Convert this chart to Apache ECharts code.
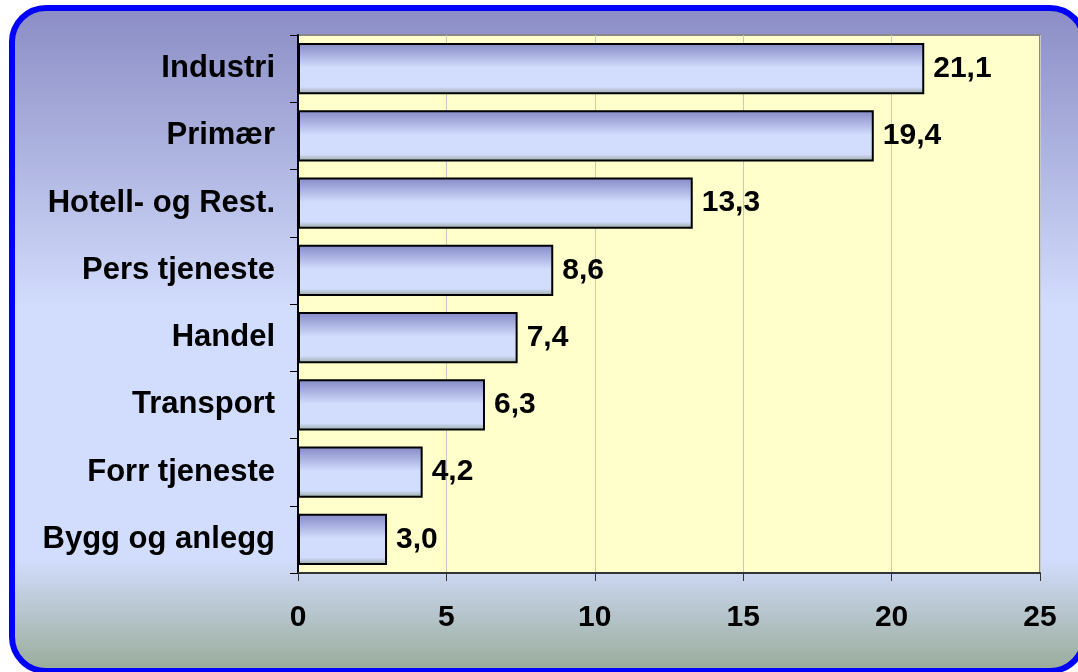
<!DOCTYPE html>
<html lang="no">
<head>
    <meta charset="UTF-8">
    <title>Bransjer</title>
    <script src="https://cdn.jsdelivr.net/npm/echarts@6/dist/echarts.min.js"></script>
    <style>
        html, body { margin: 0; padding: 0; background: #ffffff; }
    </style>
</head>
<body>
<div id="main" style="width: 1078px;height:672px;"></div>
<script type="text/javascript">
    // data
    var categories = ['Industri', 'Primær', 'Hotell- og Rest.', 'Pers tjeneste', 'Handel', 'Transport', 'Forr tjeneste', 'Bygg og anlegg'];
    var values = [21.1, 19.4, 13.3, 8.6, 7.4, 6.3, 4.2, 3.0];
    var xTicks = [0, 5, 10, 15, 20, 25];

    var myChart = echarts.init(document.getElementById('main'));
    var fontFam = '"Liberation Sans", Arial, sans-serif';

    var option = {
        animation: false,
        graphic: [{
            type: 'rect',
            z: -10,
            shape: { x: 12, y: 8, width: 1072, height: 663, r: 34 },
            style: {
                fill: new echarts.graphic.LinearGradient(0, 0, 0, 1, [
                    { offset: 0, color: '#8a8cc4' },
                    { offset: 0.45, color: '#d2dcfc' },
                    { offset: 0.83, color: '#d2dcfc' },
                    { offset: 1, color: '#97ab97' }
                ]),
                stroke: '#0000ff',
                lineWidth: 6
            }
        }],
        grid: {
            left: 298, right: 38, top: 35, bottom: 99,
            show: true,
            backgroundColor: '#ffffcc',
            borderColor: '#888888',
            borderWidth: 2
        },
        xAxis: {
            type: 'value',
            min: xTicks[0],
            max: xTicks[xTicks.length - 1],
            interval: 5,
            axisLine: { show: true, lineStyle: { color: '#333333', width: 2 } },
            axisTick: { show: true, length: 8, lineStyle: { color: '#333333' } },
            splitLine: { show: true, lineStyle: { color: '#c8c8c8', width: 1 } },
            axisLabel: {
                color: '#000', fontFamily: fontFam, fontWeight: 'bold', fontSize: 30, margin: 30
            }
        },
        yAxis: {
            type: 'category',
            inverse: true,
            data: categories,
            axisLine: { show: true, lineStyle: { color: '#000', width: 2 } },
            axisTick: { show: true, length: 8, lineStyle: { color: '#000' } },
            axisLabel: {
                color: '#000', fontFamily: fontFam, fontWeight: 'bold', fontSize: 31, margin: 23
            }
        },
        series: [{
            type: 'bar',
            data: values,
            barCategoryGap: '24%',
            itemStyle: {
                color: new echarts.graphic.LinearGradient(0, 0, 0, 1, [
                    { offset: 0, color: '#8489c6' },
                    { offset: 0.48, color: '#d2dcfc' },
                    { offset: 0.86, color: '#d2dcfc' },
                    { offset: 1, color: '#96a69e' }
                ]),
                borderColor: '#000',
                borderWidth: 2
            },
            label: {
                show: true,
                position: 'right',
                distance: 9,
                color: '#000',
                fontFamily: fontFam,
                fontWeight: 'bold',
                fontSize: 30,
                formatter: function (p) { return p.value.toFixed(1).replace('.', ','); }
            }
        }]
    };

    myChart.setOption(option);
</script>
</body>
</html>
